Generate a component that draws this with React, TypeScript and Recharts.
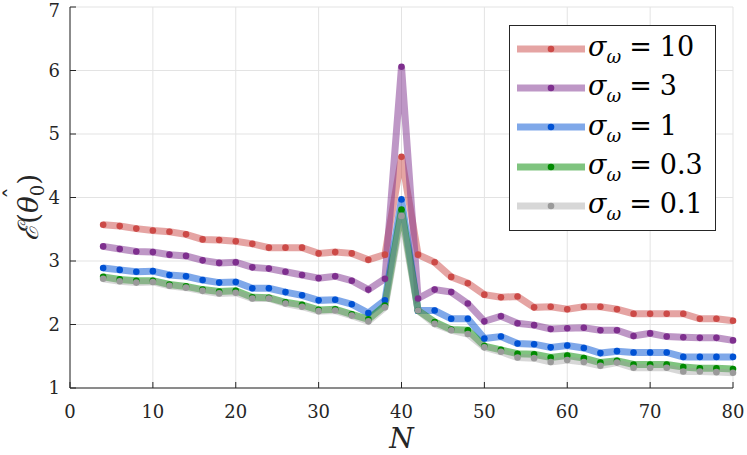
import { LineChart, Line, XAxis, YAxis, CartesianGrid, Legend } from 'recharts';

const nValues = [4, 6, 8, 10, 12, 14, 16, 18, 20, 22, 24, 26, 28, 30, 32, 34, 36, 38, 40, 42, 44, 46, 48, 50, 52, 54, 56, 58, 60, 62, 64, 66, 68, 70, 72, 74, 76, 78, 80];

const sigma10 = [3.57, 3.55, 3.51, 3.48, 3.46, 3.42, 3.34, 3.33, 3.31, 3.27, 3.21, 3.21, 3.21, 3.12, 3.14, 3.12, 3.02, 3.10, 4.64, 3.10, 2.98, 2.75, 2.65, 2.47, 2.43, 2.44, 2.27, 2.28, 2.24, 2.28, 2.28, 2.24, 2.17, 2.17, 2.17, 2.17, 2.09, 2.09, 2.06];
const sigma3 = [3.23, 3.19, 3.15, 3.14, 3.10, 3.08, 3.01, 2.97, 2.98, 2.90, 2.88, 2.83, 2.78, 2.73, 2.76, 2.69, 2.55, 2.72, 6.06, 2.41, 2.55, 2.51, 2.33, 2.05, 2.13, 2.02, 1.99, 1.93, 1.94, 1.95, 1.91, 1.91, 1.82, 1.86, 1.81, 1.80, 1.79, 1.79, 1.75];
const sigma1 = [2.89, 2.86, 2.83, 2.84, 2.78, 2.76, 2.70, 2.66, 2.67, 2.57, 2.57, 2.51, 2.46, 2.38, 2.39, 2.32, 2.18, 2.38, 3.97, 2.22, 2.22, 2.09, 2.09, 1.78, 1.81, 1.70, 1.69, 1.64, 1.67, 1.63, 1.55, 1.58, 1.56, 1.56, 1.56, 1.49, 1.49, 1.49, 1.49];
const sigma03 = [2.75, 2.71, 2.69, 2.69, 2.63, 2.60, 2.55, 2.52, 2.53, 2.43, 2.42, 2.35, 2.31, 2.23, 2.24, 2.16, 2.08, 2.30, 3.81, 2.22, 2.04, 1.92, 1.91, 1.66, 1.60, 1.54, 1.53, 1.48, 1.51, 1.47, 1.40, 1.43, 1.37, 1.37, 1.37, 1.33, 1.31, 1.31, 1.30];
const sigma01 = [2.72, 2.68, 2.66, 2.67, 2.61, 2.58, 2.53, 2.49, 2.50, 2.41, 2.41, 2.33, 2.28, 2.21, 2.22, 2.14, 2.05, 2.27, 3.71, 2.22, 2.01, 1.91, 1.85, 1.64, 1.57, 1.48, 1.47, 1.41, 1.44, 1.41, 1.35, 1.40, 1.32, 1.32, 1.32, 1.26, 1.26, 1.25, 1.24];

const xTicks = [0, 10, 20, 30, 40, 50, 60, 70, 80];
const yTicks = [1, 2, 3, 4, 5, 6, 7];

const series = [
  { key: 's10', label: '10', values: sigma10, color: '#cc4a47', alpha: 0.5 },
  { key: 's3', label: '3', values: sigma3, color: '#7e2f8e', alpha: 0.5 },
  { key: 's1', label: '1', values: sigma1, color: '#0052d4', alpha: 0.5 },
  { key: 's03', label: '0.3', values: sigma03, color: '#008a00', alpha: 0.5 },
  { key: 's01', label: '0.1', values: sigma01, color: '#9a9a9a', alpha: 0.4 },
];

const data = nValues.map((n, i) => {
  const row: Record<string, number> = { n };
  series.forEach((s) => {
    row[s.key] = s.values[i];
  });
  return row;
});

const FONT = 'DejaVu Serif';
const AXIS = '#262626';
const tickStyle = { fill: AXIS, fontSize: 18, fontFamily: FONT };

function LegendBox() {
  return (
    <div
      style={{
        width: 205,
        height: 201,
        border: `1px solid ${AXIS}`,
        background: '#fff',
        paddingTop: 3,
        boxSizing: 'content-box',
      }}
    >
      {series.map((s) => (
        <div key={s.key} style={{ height: 39.3, display: 'flex', alignItems: 'center' }}>
          <svg width={78} height={20} style={{ flex: 'none' }}>
            <line x1={7} x2={75} y1={10} y2={10} stroke={s.color} strokeOpacity={s.alpha} strokeWidth={7} />
            <circle cx={41} cy={10} r={3.3} fill={s.color} />
          </svg>
          <span style={{ fontFamily: FONT, fontSize: 27, color: '#000', whiteSpace: 'nowrap', lineHeight: '30px' }}>
            <span style={{ fontStyle: 'italic' }}>σ</span>
            <span style={{ fontStyle: 'italic', fontSize: 18, position: 'relative', top: 7 }}>ω</span>
            <span style={{ margin: '0 8px' }}>=</span>
            <span>{s.label}</span>
          </span>
        </div>
      ))}
    </div>
  );
}

function YLabel() {
  return (
    <g transform="translate(38 197) rotate(-90)" fontFamily={FONT} fill={AXIS}>
      <text x={-44} y={0} fontSize={28}>
        <tspan fontStyle="italic">ℰ</tspan>
        <tspan>(</tspan>
        <tspan fontStyle="italic">θ</tspan>
        <tspan fontSize={18} dy={6}>0</tspan>
        <tspan dy={-6}>)</tspan>
      </text>
      <text x={4} y={-16} fontSize={24} textAnchor="middle">ˆ</text>
    </g>
  );
}

export default function App() {
  return (
    <div style={{ position: 'absolute', left: 0, top: 0, width: 747, height: 455, background: '#fff' }}>
      <LineChart width={747} height={455} data={data} margin={{ top: 7, right: 14, left: 0, bottom: 0 }}>
        <CartesianGrid stroke="#e3e3e3" strokeWidth={1} />
        <XAxis
          dataKey="n"
          type="number"
          domain={[0, 80]}
          ticks={xTicks}
          height={67}
          tickSize={-6}
          tickMargin={23}
          stroke={AXIS}
          tick={tickStyle}
          label={{
            content: () => (
              <text x={401.5} y={448} textAnchor="middle" fontFamily={FONT} fontSize={28} fontStyle="italic" fill={AXIS}>
                N
              </text>
            ),
          }}
        />
        <XAxis
          xAxisId="top"
          orientation="top"
          type="number"
          domain={[0, 80]}
          ticks={xTicks}
          height={0}
          tickSize={-6}
          stroke={AXIS}
          tick={false}
        />
        <YAxis
          type="number"
          domain={[1, 7]}
          ticks={yTicks}
          width={70}
          tickSize={-6}
          tickMargin={16}
          stroke={AXIS}
          tick={tickStyle}
          label={{ content: () => <YLabel /> }}
        />
        <YAxis
          yAxisId="right"
          orientation="right"
          type="number"
          domain={[1, 7]}
          ticks={yTicks}
          width={0}
          tickSize={-6}
          stroke={AXIS}
          tick={false}
        />
        <Legend
          layout="horizontal"
          verticalAlign="middle"
          align="center"
          wrapperStyle={{ left: 509, top: 25, width: 207, height: 205 }}
          content={() => <LegendBox />}
        />
        {series.map((s) => (
          <Line
            key={s.key}
            dataKey={s.key}
            type="linear"
            stroke={s.color}
            strokeOpacity={s.alpha}
            strokeWidth={7}
            strokeLinejoin="miter"
            dot={{ r: 3.3, fill: s.color, stroke: 'none', strokeWidth: 0, fillOpacity: 1 }}
            activeDot={false}
            isAnimationActive={false}
          />
        ))}
      </LineChart>
    </div>
  );
}
